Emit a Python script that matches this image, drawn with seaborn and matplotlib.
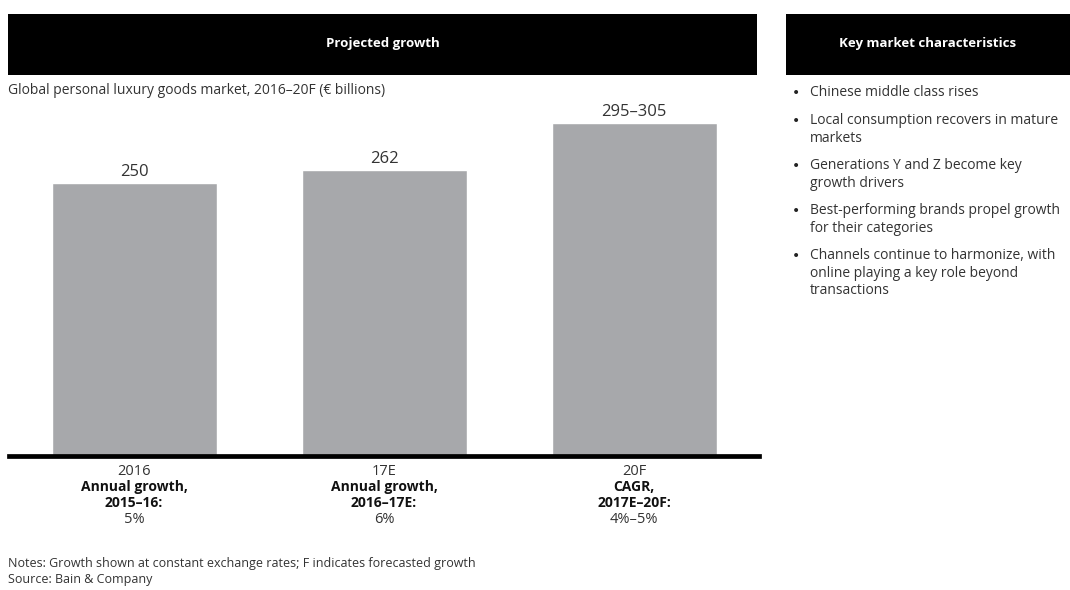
import matplotlib
matplotlib.use("Agg")
import matplotlib.pyplot as plt
import matplotlib.transforms as mtransforms
from matplotlib.patches import Rectangle
import seaborn as sns
import pandas as pd

# data
years = ["2016", "17E", "20F"]
market = [250, 262, 305]
value_labels = ["250", "262", "295\u2013305"]
growth_heads = ["Annual growth,\n2015\u201316:", "Annual growth,\n2016\u201317E:", "CAGR,\n2017E\u201320F:"]
growth_vals = ["5%", "6%", "4%\u20135%"]
bullets = [
    "Chinese middle class rises",
    "Local consumption recovers in mature\nmarkets",
    "Generations Y and Z become key\ngrowth drivers",
    "Best-performing brands propel growth\nfor their categories",
    "Channels continue to harmonize, with\nonline playing a key role beyond\ntransactions",
]

sns.set_style("white")
plt.rcParams["font.family"] = ["Open Sans", "DejaVu Sans"]

df = pd.DataFrame({"year": years, "value": market})

W, H = 1070, 590
fig = plt.figure(figsize=(W / 100, H / 100), dpi=100)

# axes: x 9..759 px, baseline at y=456, top at y=95
ax = fig.add_axes([9 / W, (H - 456) / H, 750 / W, (456 - 95) / H])
sns.barplot(data=df, x="year", y="value", color="#a7a8ab", saturation=1,
            width=0.66, ax=ax)
ax.set_xlim(-0.5, 2.5)
ax.set_ylim(0, 331)
ax.set_xlabel("")
ax.set_ylabel("")
ax.set_yticks([])
for s in ["top", "right", "left"]:
    ax.spines[s].set_visible(False)
ax.spines["bottom"].set_linewidth(3.4)
ax.spines["bottom"].set_color("black")
ax.tick_params(axis="x", length=0, pad=6, labelsize=10.5, colors="#333333")

for i, lab in enumerate(value_labels):
    ax.text(i, market[i] + 3, lab, ha="center", va="bottom", fontsize=12, color="#333333")

trans = mtransforms.blended_transform_factory(ax.transData, fig.transFigure)
for i in range(len(years)):
    ax.text(i, 1 - 480 / H, growth_heads[i], transform=trans, ha="center", va="top",
            fontsize=10, fontweight="bold", linespacing=1.2, color="#111111")
    ax.text(i, 1 - 512 / H, growth_vals[i], transform=trans, ha="center", va="top",
            fontsize=10.5, color="#333333")

# header bars
fig.patches.append(Rectangle((8 / W, 1 - 75 / H), 749 / W, 61 / H, transform=fig.transFigure,
                             facecolor="black", edgecolor="none"))
fig.patches.append(Rectangle((786 / W, 1 - 75 / H), 290 / W, 61 / H, transform=fig.transFigure,
                             facecolor="black", edgecolor="none"))
fig.text(383 / W, 1 - 44 / H, "Projected growth", color="white", ha="center", va="center",
         fontsize=9.5, fontweight="bold")
fig.text(928 / W, 1 - 44 / H, "Key market characteristics", color="white", ha="center",
         va="center", fontsize=9.5, fontweight="bold")

fig.text(8 / W, 1 - 90 / H, "Global personal luxury goods market, 2016\u201320F (\u20ac billions)",
         ha="left", va="center", fontsize=10, color="#333333")

# bullets
y = 93
for b in bullets:
    fig.text(792 / W, 1 - y / H, "\u2022", ha="left", va="center", fontsize=10,
             family="DejaVu Sans", color="#222222")
    fig.text(810 / W, 1 - (y - 8) / H, b, ha="left", va="top", fontsize=10,
             linespacing=1.25, color="#333333")
    y += 17 * (b.count("\n") + 1) + 11

fig.text(8 / W, 1 - 564 / H, "Notes: Growth shown at constant exchange rates; F indicates forecasted growth",
         ha="left", va="center", fontsize=9, color="#333333")
fig.text(8 / W, 1 - 580 / H, "Source: Bain & Company", ha="left", va="center", fontsize=9,
         color="#333333")

fig.savefig("out.png", dpi=100)
